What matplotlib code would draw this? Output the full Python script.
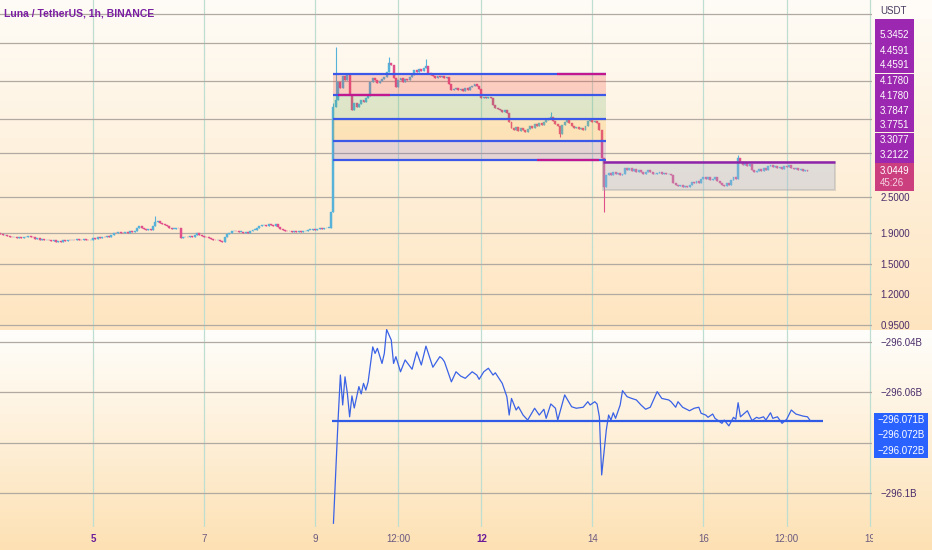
import numpy as np
import matplotlib
matplotlib.use("Agg")
import matplotlib.pyplot as plt
from matplotlib.patches import Rectangle
from matplotlib.ticker import FixedLocator, FixedFormatter, NullLocator
from matplotlib.transforms import Bbox, TransformedBbox

plt.rcParams["font.family"] = ["Liberation Sans", "DejaVu Sans"]

# LUNA/USDT 1h closes, x axis = hours since 2021-02-05 00:00
first_hour = -40
first_open = 1.90
closes = [
    1.89, 1.87, 1.88, 1.86, 1.85, 1.84, 1.85, 1.83, 1.84, 1.83,
    1.84, 1.85, 1.86, 1.85, 1.84, 1.82, 1.83, 1.81, 1.82, 1.80,
    1.81, 1.80, 1.79, 1.80, 1.78, 1.79, 1.78, 1.80, 1.79, 1.81,
    1.80, 1.81, 1.80, 1.82, 1.81, 1.80, 1.82, 1.81, 1.80, 1.81,
    1.83, 1.82, 1.84, 1.83, 1.85, 1.84, 1.86, 1.85, 1.87, 1.91,
    1.90, 1.92, 1.91, 1.90, 1.92, 1.91, 1.93, 1.92, 1.94, 1.97,
    2.01, 1.98, 1.96, 1.95, 1.96, 1.95, 2.00, 2.07, 2.09, 2.06,
    2.04, 2.02, 2.00, 1.97, 1.96, 1.96, 1.98, 1.97, 1.83, 1.84,
    1.85, 1.84, 1.86, 1.85, 1.88, 1.90, 1.87, 1.86, 1.85, 1.84,
    1.83, 1.82, 1.81, 1.80, 1.81, 1.79, 1.78, 1.84, 1.89, 1.91,
    1.93, 1.94, 1.93, 1.92, 1.92, 1.91, 1.92, 1.91, 1.93, 1.95,
    1.95, 1.97, 2.00, 2.02, 2.03, 2.01, 2.04, 2.03, 2.01, 2.04,
    1.99, 1.96, 1.95, 1.94, 1.93, 1.93, 1.92, 1.93, 1.92, 1.93,
    1.92, 1.93, 1.94, 1.95, 1.95, 1.96, 1.95, 1.96, 1.97, 1.96,
    1.97, 1.98, 1.98, 2.24, 4.94, 5.21, 5.98, 5.71, 6.25, 6.07,
    6.30, 5.41, 4.83, 5.09, 4.94, 5.06, 5.21, 5.13, 5.30, 5.37,
    5.98, 6.16, 6.07, 5.93, 6.02, 6.11, 6.21, 6.45, 6.90, 6.80,
    6.16, 5.75, 6.07, 6.16, 5.98, 6.11, 6.07, 6.21, 6.30, 6.54,
    6.45, 6.59, 6.50, 6.64, 6.74, 6.40, 6.30, 6.25, 6.16, 6.25,
    6.21, 6.25, 6.16, 6.21, 5.88, 5.62, 5.67, 5.71, 5.62, 5.67,
    5.58, 5.71, 5.62, 5.75, 5.79, 5.88, 5.79, 5.67, 5.30, 5.33,
    5.30, 5.33, 5.30, 5.02, 4.91, 4.87, 4.83, 4.76, 4.83, 4.72,
    4.41, 4.22, 4.15, 4.25, 4.12, 4.22, 4.15, 4.09, 4.19, 4.28,
    4.22, 4.35, 4.28, 4.38, 4.31, 4.41, 4.48, 4.55, 4.58, 4.45,
    4.35, 4.28, 4.03, 4.31, 4.41, 4.48, 4.38, 4.28, 4.22, 4.25,
    4.19, 4.22, 4.15, 4.28, 4.45, 4.48, 4.41, 4.45, 4.38, 4.15,
    3.36, 2.69, 2.95, 3.00, 2.95, 3.02, 2.97, 3.00, 2.95, 2.98,
    3.11, 3.07, 3.11, 3.05, 3.09, 3.03, 3.07, 3.02, 2.98, 3.03,
    3.07, 3.02, 2.97, 2.98, 3.00, 3.02, 2.98, 3.00, 2.97, 2.98,
    2.95, 2.77, 2.74, 2.72, 2.74, 2.70, 2.72, 2.70, 2.74, 2.80,
    2.79, 2.82, 2.77, 2.87, 2.90, 2.87, 2.90, 2.84, 2.87, 2.90,
    2.82, 2.77, 2.74, 2.72, 2.77, 2.74, 2.84, 2.90, 2.87, 3.35,
    3.25, 3.19, 3.23, 3.16, 3.21, 3.07, 3.02, 3.05, 3.09, 3.05,
    3.11, 3.07, 3.16, 3.19, 3.14, 3.16, 3.11, 3.14, 3.09, 3.16,
    3.14, 3.19, 3.11, 3.09, 3.11, 3.07, 3.09, 3.05, 3.07, 3.0449,
]
wick_highs = {27: 2.16, 104: 5.10, 105: 7.79, 128: 7.20, 144: 7.11, 198: 4.76, 279: 3.45}
wick_lows = {202: 3.95, 221: 2.23}

# indicator (billions)
ind_hours = [
    104, 106, 107, 108, 109, 110, 111, 112, 113, 115,
    116, 117, 118, 119, 121, 122, 123, 125, 126, 127,
    129, 130, 131, 133, 135, 138, 140, 142, 144, 147,
    150, 151, 152, 155, 157, 159, 161, 164, 166, 167,
    169, 171, 173, 174, 177, 179, 180, 181, 183, 184,
    186, 188, 191, 193, 195, 196, 198, 200, 201, 204,
    207, 209, 212, 214, 215, 217, 218, 219, 220, 222,
    223, 224, 225, 226, 228, 229, 231, 233, 235, 237,
    239, 241, 244, 246, 249, 250, 252, 253, 255, 258,
    260, 262, 263, 265, 266, 268, 269, 272, 273, 275,
    277, 278, 279, 280, 283, 285, 287, 288, 290, 291,
    293, 294, 296, 298, 300, 302, 304, 307, 309, 310,
]
ind_values = [
    -296.1120, -296.0710, -296.0531, -296.0650, -296.0538, -296.0602, -296.0697, -296.0614, -296.0662, -296.0577,
    -296.0606, -296.0564, -296.0591, -296.0558, -296.0419, -296.0445, -296.0425, -296.0485, -296.0445, -296.0350,
    -296.0392, -296.0485, -296.0458, -296.0518, -296.0471, -296.0508, -296.0439, -296.0491, -296.0416, -296.0500,
    -296.0458, -296.0465, -296.0478, -296.0558, -296.0518, -296.0535, -296.0544, -296.0518, -296.0531, -296.0548,
    -296.0518, -296.0504, -296.0531, -296.0522, -296.0564, -296.0617, -296.0690, -296.0624, -296.0670, -296.0657,
    -296.0690, -296.0710, -296.0663, -296.0690, -296.0667, -296.0703, -296.0646, -296.0663, -296.0710, -296.0610,
    -296.0657, -296.0663, -296.0659, -296.0637, -296.0650, -296.0637, -296.0646, -296.0697, -296.0928, -296.0749,
    -296.0690, -296.0710, -296.0681, -296.0703, -296.0650, -296.0593, -296.0617, -296.0624, -296.0630, -296.0650,
    -296.0667, -296.0659, -296.0597, -296.0624, -296.0630, -296.0637, -296.0659, -296.0637, -296.0659, -296.0673,
    -296.0663, -296.0659, -296.0683, -296.0690, -296.0699, -296.0686, -296.0703, -296.0723, -296.0710, -296.0733,
    -296.0699, -296.0707, -296.0641, -296.0697, -296.0673, -296.0712, -296.0699, -296.0703, -296.0697, -296.0710,
    -296.0681, -296.0703, -296.0697, -296.0723, -296.0707, -296.0670, -296.0686, -296.0694, -296.0697, -296.0710,
]
ind_base = -296.0714
ind_base_span = (103.4, 315.6)

# drawn zones
zone_levels = [6.35, 5.42, 4.51, 3.82, 3.31]
zone_span = (103.8, 221.8)
range_box = (220.5, 320.9, 2.64, 3.25)

price_ticks = [0.95, 1.2, 1.5, 1.9, 2.5, 3.5, 4.5, 6, 8, 10]
price_tick_labels = ["0.9500", "1.2000", "1.5000", "1.9000", "2.5000", "", "", "", "", ""]
ind_ticks = [-296.04, -296.06, -296.08, -296.10]
ind_tick_labels = ["\u2212296.04B", "\u2212296.06B", "", "\u2212296.1B"]
time_ticks = [0, 48, 96, 132, 168, 216, 264, 300, 336]
time_labels = ["5", "7", "9", "12:00", "12", "14", "16", "12:00", "19"]

tag_texts = ["5.3452", "4.4591", "4.4591", "4.1780", "4.1780", "3.7847", "3.7751", "3.3077", "3.2122"]
last_price = "3.0449"
countdown = "45:26"
ind_tags = ["\u2212296.071B", "\u2212296.072B", "\u2212296.072B"]

W, H = 932, 550
def fx(px):
    return px / W
def fy(py):
    return 1 - py / H

fig = plt.figure(figsize=(9.32, 5.5), dpi=100)

# background gradient, one per pane
grad = np.zeros((H, 1, 3))
grad[:330, 0] = np.linspace([255, 252, 247], [254, 229, 192], 330)
grad[330:, 0] = np.linspace([255, 254, 251], [253, 225, 180], H - 330)
bg = fig.add_axes([0, 0, 1, 1], zorder=0)
bg.imshow(grad / 255, aspect="auto", extent=[0, 1, 0, 1], interpolation="bilinear")
bg.set_axis_off()

ax = fig.add_axes([0, fy(329), fx(872), 329 / H], zorder=1)
ax2 = fig.add_axes([0, fy(527), fx(872), 198 / H], zorder=1, sharex=ax)
for a in (ax, ax2):
    a.patch.set_visible(False)
    for s in a.spines.values():
        s.set_visible(False)
    a.set_axisbelow(True)
    a.grid(axis="y", color="#b0aaa3", lw=0.9)
    a.grid(axis="x", color="#bfded2", lw=0.9)
    a.yaxis.tick_right()
    a.tick_params(axis="y", length=0, pad=6, labelsize=7, labelcolor="#4a2c6a")

# candles
closes = np.array(closes)
hours = first_hour + np.arange(len(closes))
opens = np.concatenate([[first_open], closes[:-1]])
highs = np.maximum(opens, closes)
lows = np.minimum(opens, closes)
for h, v in wick_highs.items():
    highs[h - first_hour] = v
for h, v in wick_lows.items():
    lows[h - first_hour] = v
colors = np.where(closes >= opens, "#56b2d8", "#e04f8b")
body_lo = np.minimum(opens, closes)
body_h = np.maximum(np.abs(closes - opens), closes * 0.005)

ax.set_yscale("log")
ax.vlines(hours, lows, highs, colors=colors, lw=0.8, zorder=2)
ax.bar(hours, body_h, bottom=body_lo, width=0.85, color=colors,
       edgecolor=colors, lw=0.3, zorder=2)

# zone boxes
z0, z1 = zone_span
zone_fills = [("#f44336", 0.22), ("#5faa55", 0.2), ("#f5a310", 0.2), ("#8264b4", 0.2)]
for (c, al), hi, lo in zip(zone_fills, zone_levels[:-1], zone_levels[1:]):
    ax.add_patch(Rectangle((z0, lo), z1 - z0, hi - lo, facecolor=c, alpha=al, lw=0, zorder=3))
ax.hlines(zone_levels, z0, z1, color="#3b58e8", lw=1.6, zorder=4)
ax.hlines(zone_levels[1], 106, 128.5, color="#c2188f", lw=1.6, zorder=4)
ax.hlines(zone_levels[0], 200.6, z1, color="#c2188f", lw=1.6, zorder=4)
ax.hlines(zone_levels[4], 192, 219, color="#c2188f", lw=1.6, zorder=4)

b0, b1, blo, bhi = range_box
ax.add_patch(Rectangle((b0, blo), b1 - b0, bhi - blo, facecolor="#a5b4d2", alpha=0.33,
                       edgecolor="#9a9a9a", lw=1.4, zorder=3))
ax.hlines(bhi, b0, b1, color="#8e24aa", lw=1.8, zorder=4)

ax.set_xlim(-40.2, 336.9)
ax.set_ylim(0.92, 11.12)
ax.yaxis.set_major_locator(FixedLocator(price_ticks))
ax.yaxis.set_major_formatter(FixedFormatter(price_tick_labels))
ax.yaxis.set_minor_locator(NullLocator())
ax.tick_params(axis="x", length=0, labelbottom=False)

# indicator pane
ax2.plot(ind_hours, ind_values, color="#3a62e6", lw=0.9, zorder=3)
ax2.hlines(ind_base, *ind_base_span, color="#2f5be6", lw=1.6, zorder=3)
ax2.set_ylim(-296.1135, -296.0348)
ax2.yaxis.set_major_locator(FixedLocator(ind_ticks))
ax2.yaxis.set_major_formatter(FixedFormatter(ind_tick_labels))
ax2.set_xticks(time_ticks)
ax2.set_xticklabels(time_labels)
ax2.tick_params(axis="x", length=0, pad=5, labelsize=7, labelcolor="#6b5a80")
clip = TransformedBbox(Bbox([[0, 0], [fx(873), 1]]), fig.transFigure)
for lbl in ax2.get_xticklabels():
    if lbl.get_text() in ("5", "12"):
        lbl.set_fontweight("bold")
        lbl.set_color("#6a1b9a")
    lbl.set_clip_box(clip)
    lbl.set_clip_on(True)

# title
fig.text(fx(4), fy(14), "Luna / TetherUS, 1h, BINANCE", color="#7b1fa2",
         fontsize=7.5, fontweight="bold", va="center", ha="left")

# price scale tags
def tag(y0, y1, color, x0=875, x1=914):
    fig.patches.append(Rectangle((fx(x0), fy(y1)), fx(x1) - fx(x0), (y1 - y0) / H,
                                 transform=fig.transFigure, facecolor=color, lw=0, zorder=5))

tag(18, 26.5, "#9c27b0")
fig.patches.append(Rectangle((fx(873), fy(19)), fx(932) - fx(873), 19 / H,
                             transform=fig.transFigure, facecolor="#fffcf8", lw=0, zorder=5))
fig.text(fx(880), fy(11), "USDT", color="#4a3a5e", fontsize=7, va="center", zorder=6)
tag(26.7, 72.7, "#9c27b0")
tag(74, 131.7, "#9c27b0")
tag(133, 163, "#9c27b0")
tag(163, 190.7, "#cc3f7e")
tag_y = [35, 51, 65, 81, 96, 111, 125, 140, 155]
for t, y in zip(tag_texts, tag_y):
    fig.text(fx(880), fy(y), t, color="white", fontsize=7, va="center", zorder=6)
fig.text(fx(880), fy(171), last_price, color="white", fontsize=7, va="center", zorder=6)
fig.text(fx(880), fy(183.5), countdown, color="#f6d4e2", fontsize=7, va="center", zorder=6)

tag(413, 427.5, "#2962ff", 874, 928)
tag(428, 458, "#2962ff", 874, 928)
for t, y in zip(ind_tags, [420, 435, 451]):
    fig.text(fx(878), fy(y), t, color="white", fontsize=7, va="center", zorder=6)

fig.savefig("out.png", dpi=100)
